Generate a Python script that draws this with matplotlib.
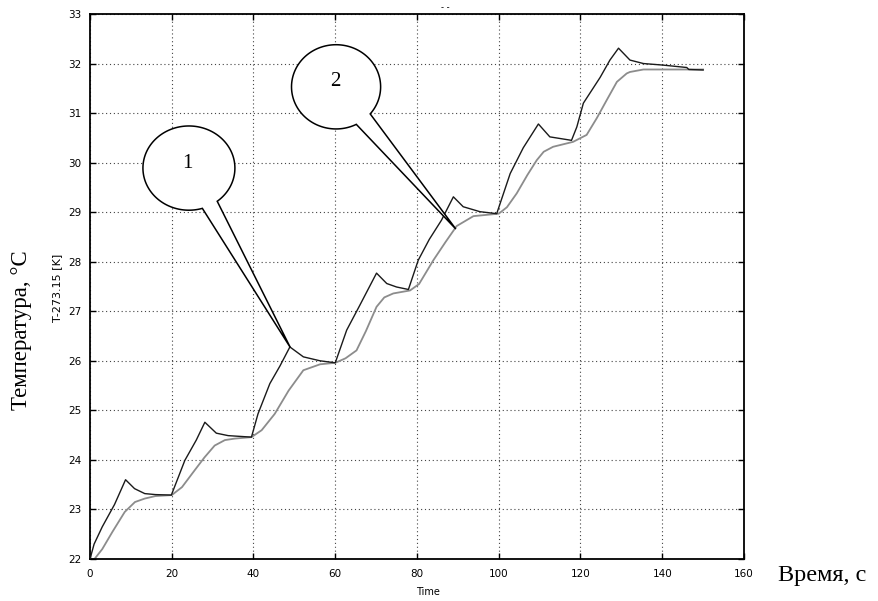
import numpy as np
import matplotlib
matplotlib.use("Agg")
import matplotlib.pyplot as plt
from matplotlib.patches import Polygon

# courbe 1 (noire) : temperature mesuree
t_black = [0, 1, 3, 6, 8.7, 10.9, 13.4, 16, 19.9,
           21.6, 23.2, 26, 28.1, 30.9, 33.8, 39.5,
           41.1, 44, 46.5, 48.9, 52.2, 56.3, 60,
           62.8, 66, 70.1, 72.6, 75, 77.9,
           80.3, 83, 86, 88.9, 91.3, 95.4, 99.5,
           102.8, 106, 109.7, 112.5, 117.8,
           119.1, 120.7, 124.8, 127.2, 129.3, 132.1, 135.4, 140, 146, 146.5, 150]
T_black = [22.0, 22.3, 22.65, 23.1, 23.6, 23.42, 23.32, 23.3, 23.29,
           23.65, 23.99, 24.4, 24.76, 24.54, 24.49, 24.46,
           24.93, 25.54, 25.9, 26.28, 26.08, 26.0, 25.96,
           26.62, 27.12, 27.77, 27.56, 27.49, 27.44,
           28.03, 28.45, 28.84, 29.31, 29.11, 29.01, 28.97,
           29.78, 30.3, 30.78, 30.52, 30.45,
           30.72, 31.2, 31.72, 32.07, 32.31, 32.07, 32.0, 31.97, 31.92, 31.88, 31.87]

# courbe 2 (grise) : modele
t_gray = [0, 1.1, 3, 5.5, 8.5, 11, 13.4, 16, 20,
          22.5, 25.6, 28, 30.5, 33, 35.4, 39.5,
          42, 45.2, 48.6, 52.2, 56.3, 60,
          62.5, 65.2, 67.5, 70.1, 72, 74.2, 78.3,
          80.5, 84, 87, 89.7, 93.8, 100,
          102, 104.4, 107, 109.3, 111, 113.3, 118.2,
          121.5, 124, 126.4, 128.9, 131.3, 132.1, 135.4, 150]
T_gray = [22.0, 22.0, 22.2, 22.55, 22.95, 23.15, 23.22, 23.27, 23.29,
          23.45, 23.79, 24.05, 24.29, 24.4, 24.43, 24.46,
          24.6, 24.93, 25.4, 25.81, 25.93, 25.96,
          26.05, 26.21, 26.6, 27.09, 27.28, 27.36, 27.42,
          27.55, 28.03, 28.4, 28.72, 28.92, 28.97,
          29.1, 29.38, 29.75, 30.05, 30.22, 30.32, 30.42,
          30.56, 30.9, 31.26, 31.63, 31.8, 31.83, 31.88, 31.88]

# bulles : (texte, centre, demi-axes, pointe, angles de la base de la queue)
callout_labels = ["1", "2"]
callout_centers = [(24.2, 29.89), (60.2, 31.53)]
callout_radii = [(11.25, 0.85), (10.9, 0.85)]
callout_tips = [(49.0, 26.27), (89.5, 28.66)]
callout_gaps = [(-52, -73), (-40, -63)]

xticks = np.arange(0, 161, 20)
yticks = np.arange(22, 34, 1)

fig = plt.figure(figsize=(8.79, 6.01), dpi=100)
ax = fig.add_axes([90/879, 42/601, 654/879, 545/601])

ax.plot(t_gray, T_gray, color='#8c8c8c', lw=1.3, zorder=2)
ax.plot(t_black, T_black, color='#1a1a1a', lw=1.0, zorder=3)

for lab, c, r, tip, gap in zip(callout_labels, callout_centers, callout_radii, callout_tips, callout_gaps):
    a = np.radians(np.linspace(gap[0], gap[1] + 360, 200))
    pts = np.column_stack([c[0] + r[0]*np.cos(a), c[1] + r[1]*np.sin(a)])
    pts = np.vstack([pts, tip])
    ax.add_patch(Polygon(pts, closed=True, facecolor='white', edgecolor='black', lw=1.1, zorder=5))
    ax.text(c[0] - 0.3, c[1] + 0.1, lab, ha='center', va='center', fontsize=15,
            family='Liberation Serif', zorder=6)

ax.set_xlim(0, 160)
ax.set_ylim(22, 33)
ax.set_xticks(xticks)
ax.set_yticks(yticks)
ax.grid(True, color='#444444', lw=0.8, linestyle=(0, (1, 2.5)))
ax.tick_params(direction='in', length=4, width=1, top=True, right=True, labelsize=7.5)
ax.tick_params(axis='x', pad=7)
ax.tick_params(axis='y', pad=6)
for s in ax.spines.values():
    s.set_linewidth(1.3)

fig.text(428/879, 1 - 592/601, "Time", ha='center', va='center', fontsize=7)
fig.text(57/879, 1 - 288/601, "T-273.15 [K]", ha='center', va='center', rotation=90, fontsize=8)
fig.text(22/879, 1 - 330/601, "Температура, °С", ha='center', va='center', rotation=90,
         fontsize=16.5, family='Liberation Serif')
fig.text(822/879, 1 - 575/601, "Время, с", ha='center', va='center', fontsize=17.5,
         family='Liberation Serif')
fig.text(445/879, 1 - 7/601, "- -", ha='center', va='center', fontsize=6)

fig.savefig("out.png", dpi=100)
